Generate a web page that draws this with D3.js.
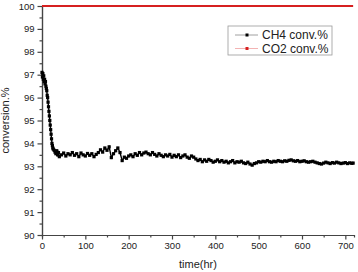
<!DOCTYPE html>
<html lang="en">
	<head>
		<meta charset="utf-8">
		<script src="https://d3js.org/d3.v7.min.js"></script>
		<style>
			body { margin: 0; background: #fff; }
			text { font-family: "Liberation Sans", Arial, sans-serif; fill: #222; }
		</style>
	</head>
	<body>
		<script type="text/javascript">

			//Width and height
			var w = 358;
			var h = 272;
			var margin = {top: 6, right: 4, bottom: 37, left: 42};

			//Data
			var timeHr = [0, 1, 2, 3, 4, 5, 6, 7, 8, 9, 10, 11, 12, 13, 14, 15, 16, 17, 18, 19,
				20, 21, 22, 23, 24, 25, 26, 28, 30, 32, 34, 36, 38, 40,
				45, 50, 55, 60, 65, 70, 75, 80, 85, 90, 95, 100, 105, 110, 115, 120, 125, 130,
				135, 140, 145, 150, 155, 160, 165, 170, 175, 180, 185, 190, 195, 200, 205, 210,
				215, 220, 225, 230, 235, 240, 245, 250, 255, 260, 265, 270, 275, 280, 285, 290,
				295, 300, 305, 310, 315, 320, 325, 330, 335, 340, 345, 350, 355, 360, 365, 370,
				375, 380, 385, 390, 395, 400, 405, 410, 415, 420, 425, 430, 435, 440, 445, 450,
				455, 460, 465, 470, 475, 480, 485, 490, 495, 500, 505, 510, 515, 520, 525, 530,
				535, 540, 545, 550, 555, 560, 565, 570, 575, 580, 585, 590, 595, 600, 605, 610,
				615, 620, 625, 630, 635, 640, 645, 650, 655, 660, 665, 670, 675, 680, 685, 690,
				695, 700, 705, 710, 715, 718];

			var ch4Conv = [97.1, 96.9, 97.05, 96.8, 96.95, 96.7, 96.8, 96.6, 96.7, 96.5, 96.4, 96.3, 96.1, 96.0, 95.8, 95.6, 95.4, 95.2, 95.0, 94.8,
				94.6, 94.4, 94.2, 94.0, 93.9, 93.8, 93.75, 93.7, 93.62, 93.55, 93.68, 93.5, 93.6, 93.42,
				93.5, 93.58, 93.45, 93.55, 93.5, 93.6, 93.48, 93.55, 93.42, 93.58, 93.5, 93.45, 93.56, 93.48, 93.55, 93.42, 93.52, 93.6,
				93.72, 93.62, 93.8, 93.7, 93.85, 93.38, 93.55, 93.68, 93.8, 93.6, 93.25, 93.4, 93.35, 93.45, 93.5, 93.42,
				93.55, 93.48, 93.6, 93.5, 93.58, 93.62, 93.55, 93.5, 93.6, 93.52, 93.45, 93.55, 93.48, 93.42, 93.5, 93.45,
				93.52, 93.4, 93.48, 93.42, 93.5, 93.38, 93.45, 93.5, 93.4, 93.35, 93.45, 93.4, 93.32, 93.25, 93.3, 93.2,
				93.28, 93.22, 93.3, 93.25, 93.18, 93.22, 93.28, 93.2, 93.25, 93.18, 93.22, 93.15, 93.2, 93.25, 93.15, 93.2,
				93.18, 93.22, 93.15, 93.12, 93.18, 93.1, 93.05, 93.12, 93.15, 93.2, 93.18, 93.22, 93.2, 93.25, 93.2, 93.18,
				93.22, 93.2, 93.25, 93.22, 93.2, 93.24, 93.22, 93.26, 93.28, 93.24, 93.22, 93.25, 93.2, 93.22, 93.24, 93.2,
				93.18, 93.2, 93.22, 93.18, 93.15, 93.12, 93.1, 93.14, 93.18, 93.15, 93.12, 93.16, 93.14, 93.18, 93.15, 93.12,
				93.14, 93.16, 93.12, 93.15, 93.13, 93.14];

			var co2Conv = timeHr.map(function() { return 100; });

			var xTicks = [0, 100, 200, 300, 400, 500, 600, 700];
			var yTicks = [90, 91, 92, 93, 94, 95, 96, 97, 98, 99, 100];
			var legendLabels = ["CH4 conv.%", "CO2 conv.%"];
			var seriesColors = ["#000000", "#d62020"];

			//Scales
			var x = d3.scaleLinear()
					  .domain([0, 720])
					  .range([margin.left, w - margin.right]);

			var y = d3.scaleLinear()
					  .domain([90, 100])
					  .range([h - margin.bottom, margin.top]);

			//Create SVG element
			var svg = d3.select("body")
						.append("svg")
						.attr("width", w)
						.attr("height", h);

			function styleAxis(g) {
				g.selectAll("path, line").attr("stroke", "#444").attr("stroke-width", 1.2);
				g.selectAll("text").style("font-size", "9.5px").attr("fill", "#222");
			}

			//Minor ticks
			svg.append("g")
			   .attr("transform", "translate(0," + (h - margin.bottom) + ")")
			   .call(d3.axisBottom(x).tickValues(d3.range(50, 720, 100)).tickSize(2.5).tickFormat(""))
			   .call(styleAxis);

			svg.append("g")
			   .attr("transform", "translate(" + margin.left + ",0)")
			   .call(d3.axisLeft(y).tickValues(d3.range(90.5, 100, 1)).tickSize(2.5).tickFormat(""))
			   .call(styleAxis);

			//Major axes
			svg.append("g")
			   .attr("transform", "translate(0," + (h - margin.bottom) + ")")
			   .call(d3.axisBottom(x).tickValues(xTicks).tickSize(4.5).tickPadding(3).tickSizeOuter(0))
			   .call(styleAxis);

			svg.append("g")
			   .attr("transform", "translate(" + margin.left + ",0)")
			   .call(d3.axisLeft(y).tickValues(yTicks).tickSize(4.5).tickPadding(3).tickSizeOuter(0))
			   .call(styleAxis);

			//Axis titles
			svg.append("text")
			   .attr("x", (margin.left + w - margin.right) / 2)
			   .attr("y", h - 4)
			   .attr("text-anchor", "middle")
			   .style("font-size", "11px")
			   .text("time(hr)");

			svg.append("text")
			   .attr("transform", "translate(9," + (h - margin.bottom + margin.top) / 2 + ") rotate(-90)")
			   .attr("text-anchor", "middle")
			   .style("font-size", "11px")
			   .text("conversion.%");

			//Lines
			var line = d3.line()
						 .x(function(d, i) { return x(timeHr[i]); })
						 .y(function(d) { return y(d); });

			svg.append("path")
			   .datum(co2Conv)
			   .attr("d", line)
			   .attr("fill", "none")
			   .attr("stroke", seriesColors[1])
			   .attr("stroke-width", 2);

			svg.append("path")
			   .datum(ch4Conv)
			   .attr("d", line)
			   .attr("fill", "none")
			   .attr("stroke", "#000")
			   .attr("stroke-width", 1.4);

			svg.selectAll("rect.ch4")
			   .data(ch4Conv)
			   .enter()
			   .append("rect")
			   .attr("class", "ch4")
			   .attr("x", function(d, i) { return x(timeHr[i]) - 1.6; })
			   .attr("y", function(d) { return y(d) - 1.6; })
			   .attr("width", 3.2)
			   .attr("height", 3.2)
			   .attr("fill", "#000");

			//Legend
			var legend = svg.append("g")
							.attr("transform", "translate(228,26)");

			legend.append("rect")
				  .attr("width", 104)
				  .attr("height", 29)
				  .attr("fill", "#fff")
				  .attr("stroke", "#999")
				  .attr("stroke-width", 0.8);

			legendLabels.forEach(function(label, i) {
				var ly = 9 + i * 13.5;
				legend.append("line")
					  .attr("x1", 7).attr("x2", 30)
					  .attr("y1", ly).attr("y2", ly)
					  .attr("stroke", i === 0 ? "#888" : "#f0a0a0")
					  .attr("stroke-width", 0.8);
				legend.append("rect")
					  .attr("x", 17.5).attr("y", ly - 1.5)
					  .attr("width", 3).attr("height", 3)
					  .attr("fill", seriesColors[i]);
				legend.append("text")
					  .attr("x", 34)
					  .attr("y", ly + 4)
					  .style("font-size", "12px")
					  .text(label);
			});

		</script>
	</body>
</html>
